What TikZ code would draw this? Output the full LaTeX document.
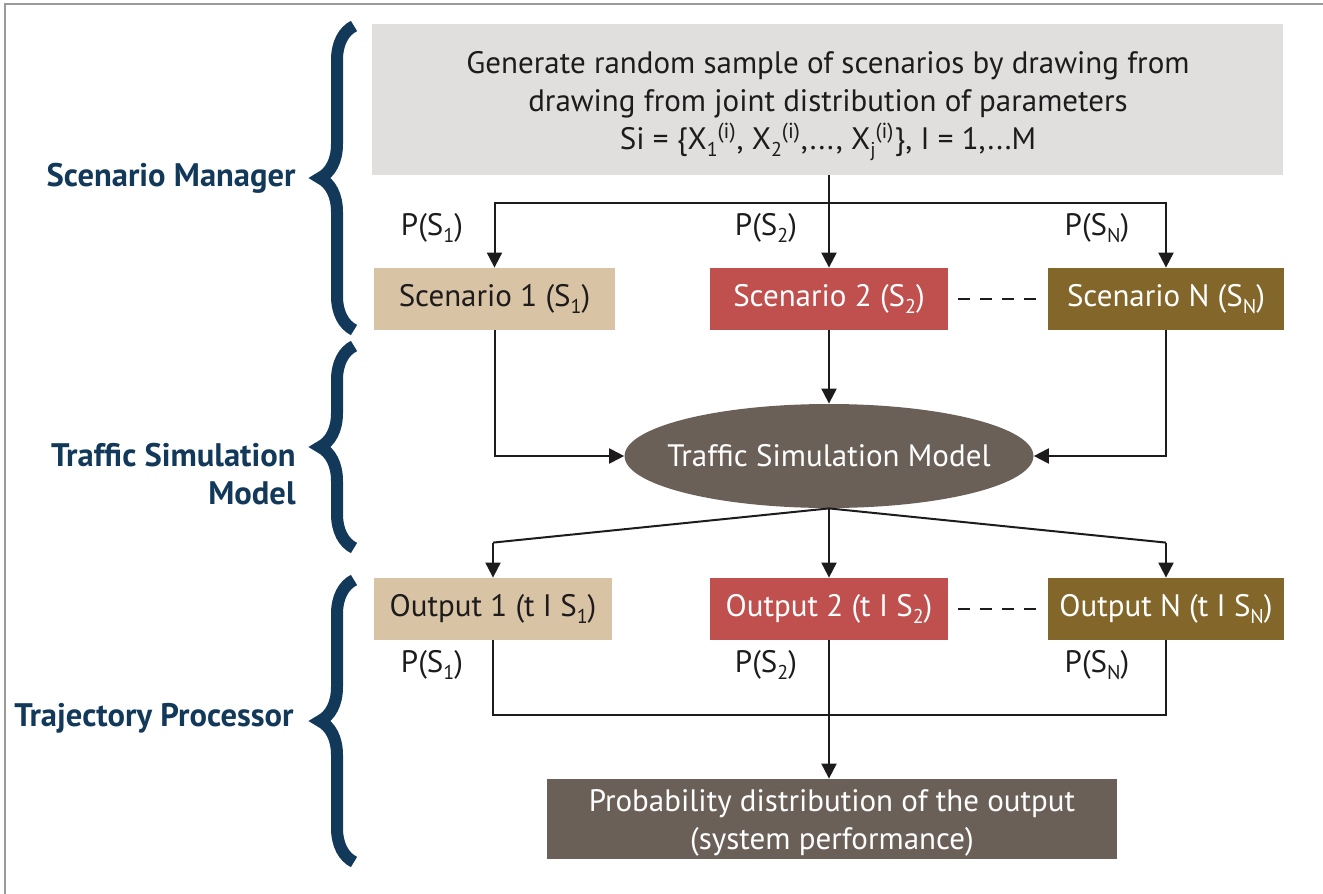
\documentclass[tikz,border=0pt]{standalone}
\usepackage{fontspec}
\setmainfont{PT Sans}
\usetikzlibrary{arrows.meta,shapes.geometric,decorations.pathreplacing,calc}
\definecolor{topgray}{HTML}{E0DFDD}
\definecolor{tan}{HTML}{D8C3A5}
\definecolor{redbox}{HTML}{C0504E}
\definecolor{olive}{HTML}{83672A}
\definecolor{darkbox}{HTML}{6B6058}
\definecolor{navy}{HTML}{12395A}
\definecolor{ink}{HTML}{1E1B1C}
\definecolor{frame}{HTML}{9A9A9A}
\newcommand{\sbs}[1]{\raisebox{-0.45ex}{\fontsize{10}{10}\selectfont #1}}
\tikzset{
  txt/.style={font=\fontsize{15.5}{19}\selectfont, text=ink},
  box/.style={rectangle, inner sep=0pt, font=\fontsize{15.5}{19}\selectfont, align=center},
  lineconn/.style={draw=ink, line width=1pt},
  arr/.style={lineconn, -{Triangle[length=7.5pt,width=7.5pt]}},
  dashconn/.style={draw=ink, line width=1pt, dash pattern=on 6pt off 5pt, shorten <=5pt, shorten >=4pt},
  bracestyle/.style={draw=navy, line width=6pt, decorate, decoration={brace, amplitude=17pt}},
  grouplabel/.style={font=\bfseries\fontsize{16.3}{19}\selectfont, text=navy, align=right, anchor=east, inner sep=0pt}
}
\begin{document}
\begin{tikzpicture}[x=0.5pt,y=-0.5pt]
\useasboundingbox (0,0) rectangle (1323,894);
\draw[frame, line width=1pt] (5,894) -- (5,4) -- (1323,4);

% top box
\node[box, fill=topgray, minimum width=455.5pt, minimum height=75.5pt] (top) at (827.5,99.5) {};
\node[box, text=ink] (toptext) at (828,106)
 {Generate random sample of scenarios by drawing from\\
  drawing from joint distribution of parameters\\
  Si = \{X\sbs{1}\textsuperscript{(i)}, X\sbs{2}\textsuperscript{(i)},..., X\sbs{j}\textsuperscript{(i)}\}, I = 1,...M};

% scenarios
\node[box, fill=tan, text=ink, minimum width=120.5pt, minimum height=31pt] (s1) at (494.5,299) {Scenario 1 (S\sbs{1})};
\node[box, fill=redbox, text=white, minimum width=119pt, minimum height=31pt] (s2) at (829,299) {Scenario 2 (S\sbs{2})};
\node[box, fill=olive, text=white, minimum width=118pt, minimum height=31pt] (sn) at (1166,299) {Scenario N (S\sbs{N})};

% ellipse
\node[ellipse, fill=darkbox, text=white, inner xsep=-8.5pt, inner ysep=0pt, minimum width=204pt, minimum height=52pt, font=\fontsize{15.5}{19}\selectfont] (tsm) at (829,456) {Traffic Simulation Model};

% outputs
\node[box, fill=tan, text=ink, minimum width=119pt, minimum height=31pt] (o1) at (493,609) {Output 1 (t I S\sbs{1})};
\node[box, fill=redbox, text=white, minimum width=119pt, minimum height=31pt] (o2) at (829,609) {Output 2 (t I S\sbs{2})};
\node[box, fill=olive, text=white, minimum width=118pt, minimum height=31pt] (on) at (1166,609) {Output N (t I S\sbs{N})};

% bottom box
\node[box, fill=darkbox, minimum width=285pt, minimum height=40pt] (prob) at (832,819) {};
\node[box, text=white] (probtext) at (832,823)
 {Probability distribution of the output\\(system performance)};

% probability labels
\node[txt] (p1) at (432,228) {P(S\sbs{1})};
\node[txt] (p2) at (766,228) {P(S\sbs{2})};
\node[txt] (p3) at (1097,228) {P(S\sbs{N})};
\node[txt] (q1) at (432,665) {P(S\sbs{1})};
\node[txt] (q2) at (766,665) {P(S\sbs{2})};
\node[txt] (q3) at (1097,665) {P(S\sbs{N})};

% connectors top
\coordinate (j1) at (829,203);
\draw[lineconn] (top.south -| j1) -- (j1);
\draw[arr] (j1) -| (s1.north);
\draw[arr] (j1) -| (sn.north);
\draw[arr] (j1) -- (s2.north);

% scenarios to model
\draw[arr] (s1.south) |- (tsm.west);
\draw[arr] (sn.south) |- (tsm.east);
\draw[arr] (s2.south) -- (tsm.north);

% dashed
\draw[dashconn] (s2.east) -- (sn.west);
\draw[dashconn] (o2.east) -- (on.west);

% model to outputs
\coordinate (k1) at ($(o1.north)+(0,-35)$);
\coordinate (kn) at ($(on.north)+(0,-35)$);
\draw[lineconn] (tsm.south) -- (k1);
\draw[arr] (k1) -- (o1.north);
\draw[lineconn] (tsm.south) -- (kn);
\draw[arr] (kn) -- (on.north);
\draw[arr] (tsm.south) -- (o2.north);

% outputs to prob
\coordinate (m1) at ($(o1.south)+(0,75)$);
\coordinate (mn) at ($(on.south)+(0,75)$);
\draw[lineconn] (o1.south) -- (m1) -- (mn) -- (on.south);
\draw[arr] (o2.south) -- (o2.south |- prob.north);

% braces
\draw[bracestyle] (354,330) -- (354,26);
\draw[bracestyle] (354,548) -- (354,346);
\draw[bracestyle] (354,862) -- (354,580);

% group labels
\node[grouplabel] (g1) at (296,178) {Scenario Manager};
\node[grouplabel] (g2) at (296,474) {Traffic Simulation\\Model};
\node[grouplabel] (g3) at (294,718) {Trajectory Processor};
\end{tikzpicture}
\end{document}
